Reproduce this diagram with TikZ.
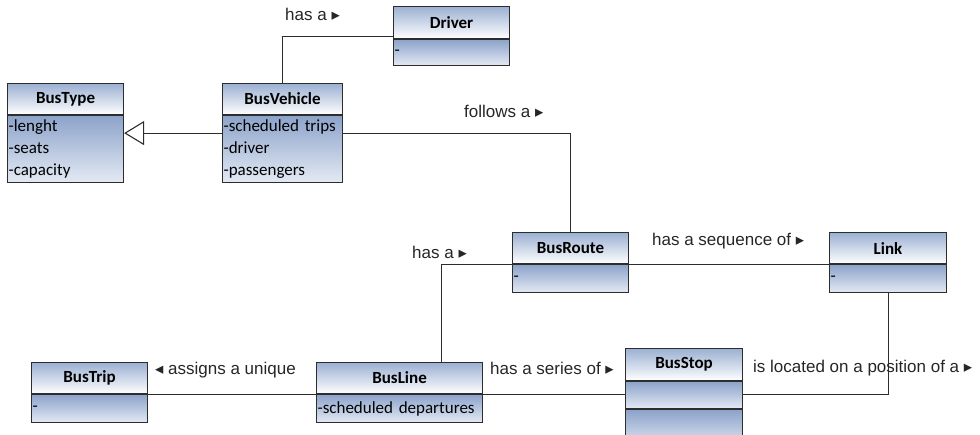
\documentclass[tikz,border=0pt]{standalone}
\usepackage{fontspec}
\setmainfont{Liberation Sans}
\newfontfamily\clsfont{Carlito}
\newfontfamily\symfont{DejaVu Sans}
\usetikzlibrary{arrows.meta,positioning}
\definecolor{headtop}{RGB}{155,176,210}
\definecolor{bodytop}{RGB}{140,163,202}
\definecolor{bodybot}{RGB}{228,234,244}
\definecolor{edge}{RGB}{45,45,45}
\newcommand{\rtri}{{\fontsize{16.5}{16}\symfont ▸}}
\newcommand{\ltri}{{\fontsize{16.5}{16}\symfont ◂}}

\begin{document}
\begin{tikzpicture}[x=1pt, y=-1pt,
	head/.style={draw=edge, line width=1.1pt, top color=headtop, bottom color=white, anchor=north west, minimum height=31pt, inner sep=0pt, font=\clsfont\bfseries\fontsize{17}{20}\selectfont},
	attr/.style={draw=edge, line width=1.1pt, top color=bodytop, bottom color=bodybot, anchor=north west, inner xsep=1pt, inner ysep=0pt, align=left, font=\clsfont\fontsize{17}{22}\selectfont},
	lbl/.style={anchor=west, inner sep=0pt, text=black!85, font=\fontsize{17}{20}\selectfont},
	assoc/.style={draw=edge, line width=1.1pt}]
	\clip (0,0) rectangle (980,434);

	% classes
	\node[head, minimum width=116pt] (btype) at (7,83) {BusType};
	\node[attr, text width=114pt, minimum height=67pt] (btypeB) at (btype.south west) {-lenght\\-seats\\-capacity};
	\node[head, minimum width=120pt] (vehicle) at (222,83) {BusVehicle};
	\node[attr, text width=118pt, minimum height=67pt] (vehicleB) at (vehicle.south west) {-scheduled trips\\-driver\\-passengers};
	\node[head, minimum width=116pt, minimum height=32pt] (driver) at (393,6) {Driver};
	\node[attr, text width=114pt, minimum height=26pt] (driverB) at (driver.south west) {-};
	\node[head, minimum width=116pt] (route) at (512,232) {BusRoute};
	\node[attr, text width=114pt, minimum height=28pt] (routeB) at (route.south west) {-};
	\node[head, minimum width=117pt] (link) at (829,232) {Link};
	\node[attr, text width=115pt, minimum height=28pt] (linkB) at (link.south west) {-};
	\node[head, minimum width=116pt] (trip) at (31,362) {BusTrip};
	\node[attr, text width=114pt, minimum height=28pt] (tripB) at (trip.south west) {-};
	\node[head, minimum width=166pt] (bline) at (316,362) {BusLine};
	\node[attr, text width=164pt, minimum height=28pt] (blineB) at (bline.south west) {-scheduled departures};
	\node[head, minimum width=117pt, minimum height=32pt] (stop) at (625,348) {BusStop};
	\node[attr, text width=115pt, minimum height=27pt] (stopB) at (stop.south west) {};
	\node[attr, text width=115pt, minimum height=38pt] (stopC) at (stopB.south west) {};

	% connectors
	\draw[assoc] (vehicle.north) |- ([yshift=3pt]driver.south west);
	\draw[assoc, -{Triangle[open, width=24pt, length=20pt, fill=white]}] ([yshift=-18pt]vehicleB.north west) -- ([yshift=-18pt]btypeB.north east);
	\draw[assoc] ([yshift=-18pt]vehicleB.north east) -| (route.north);
	\draw[assoc] ([xshift=42pt]bline.north) |- (route.south west);
	\draw[assoc] (route.south east) -- (link.south west);
	\draw[assoc] (bline.south west) -- (trip.south east);
	\draw[assoc] (bline.south east) -- (bline.south east -| stopB.west);
	\draw[assoc] (linkB.south) |- (bline.south east -| stopB.east);

	% labels
	\node[lbl] (hasDriver) at (285,14) {has a \rtri};
	\node[lbl] (follows) at (464,111) {follows a \rtri};
	\node[lbl] (hasRoute) at (412,252) {has a \rtri};
	\node[lbl] (sequence) at (652,241) {has a sequence of \rtri};
	\node[lbl] (assigns) at (155,370) {\ltri{} assigns a unique};
	\node[lbl] (series) at (490,368) {has a series of \rtri};
	\node[lbl] (located) at (753,368) {is located on a position of a \rtri};
\end{tikzpicture}
\end{document}
